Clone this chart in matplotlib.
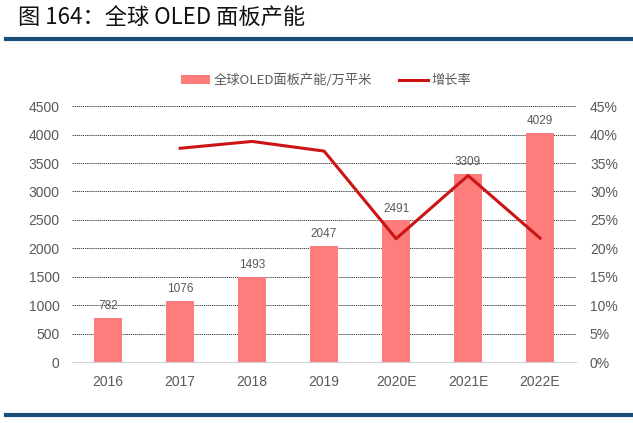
import numpy as np
import matplotlib.pyplot as plt
from matplotlib.ticker import FuncFormatter

plt.rcParams['font.family'] = ['Noto Sans CJK SC', 'DejaVu Sans']

years = ['2016', '2017', '2018', '2019', '2020E', '2021E', '2022E']
capacity = [782, 1076, 1493, 2047, 2491, 3309, 4029]
growth = [None, 0.376, 0.388, 0.371, 0.217, 0.328, 0.218]

bar_color = '#ff7c7c'
line_color = '#cc1414'
grey = '#595959'
num_font = ['Liberation Sans', 'DejaVu Sans']

fig = plt.figure(figsize=(6.33, 4.23), dpi=100)

# title and rules
fig.text(0.028, 0.957, '图 164：全球 OLED 面板产能', fontsize=16, va='center', ha='left', color='#111111')
fig.add_artist(plt.Line2D([0.01, 1.0], [0.908, 0.908], color='#1b4f7b', lw=3))
fig.add_artist(plt.Line2D([0.01, 1.0], [0.018, 0.018], color='#1b4f7b', lw=3))

ax = fig.add_axes([0.114, 0.144, 0.796, 0.605])
x = np.arange(len(years))
bars = ax.bar(x, capacity, 0.39, color=bar_color, zorder=2)
for xi, v in zip(x, capacity):
    ax.text(xi, v + 100, str(v), ha='center', va='bottom', fontsize=8.5,
            color=grey, family=num_font)

ax.set_ylim(0, 4500)
ax.set_xlim(-0.5, len(years) - 0.5)
ax.set_yticks(np.arange(0, 4501, 500))
ax.set_xticks(x)
ax.set_xticklabels(years)
ax.yaxis.grid(True, linestyle=(0, (1.5, 1)), color='#222222', lw=0.6, zorder=0)
ax.set_axisbelow(True)
for s in ['top', 'right', 'left']:
    ax.spines[s].set_visible(False)
ax.spines['bottom'].set_color('#d0d0d0')
ax.tick_params(axis='both', length=0, labelsize=10, colors=grey, pad=9)
for lab in ax.get_xticklabels() + ax.get_yticklabels():
    lab.set_family(num_font)

ax2 = ax.twinx()
gx = [xi for xi, g in zip(x, growth) if g is not None]
gy = [g for g in growth if g is not None]
line, = ax2.plot(gx, gy, color=line_color, lw=2.2)
ax2.set_ylim(0, 0.45)
ax2.set_yticks(np.arange(0, 0.451, 0.05))
ax2.yaxis.set_major_formatter(FuncFormatter(lambda v, p: f'{v*100:.0f}%'))
for s in ['top', 'right', 'left', 'bottom']:
    ax2.spines[s].set_visible(False)
ax2.tick_params(axis='y', length=0, labelsize=10, colors=grey, pad=10)
for lab in ax2.get_yticklabels():
    lab.set_family(num_font)

fig.legend([bars, line], ['全球OLED面板产能/万平米', '增长率'], loc='center',
           bbox_to_anchor=(0.515, 0.81), ncol=2, frameon=False, fontsize=9.5,
           labelcolor=grey, handlelength=2.2, handleheight=0.6, columnspacing=2.0,
           handletextpad=0.3)

fig.savefig('out.png', dpi=100)
